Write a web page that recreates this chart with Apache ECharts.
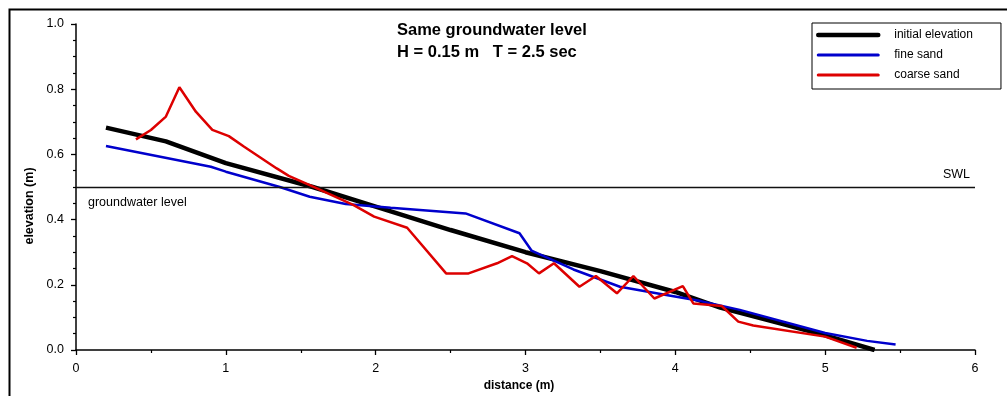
<!DOCTYPE html>
<html>
<head>
<meta charset="utf-8">
<script src="https://cdn.jsdelivr.net/npm/echarts@6/dist/echarts.min.js"></script>
<style>
html,body{margin:0;padding:0;background:#fff;}
#chart{width:1007px;height:396px;}
</style>
</head>
<body>
<div id="chart"></div>
<script>
// ---- data ----
const seriesNames = ['initial elevation', 'fine sand', 'coarse sand'];

const initialX = [0.2, 0.6, 1.0, 1.58, 2.0, 2.5, 3.0, 3.5, 4.0, 4.3, 4.7, 5.0, 5.33];
const initialY = [0.682, 0.640, 0.573, 0.500, 0.440, 0.368, 0.300, 0.242, 0.178, 0.130, 0.082, 0.045, 0.0];

const fineX = [0.2, 0.9, 1.0, 1.36, 1.56, 1.8, 2.1, 2.6, 2.96, 3.04, 3.32, 3.63, 3.94, 4.17, 4.43, 5.0, 5.28, 5.47];
const fineY = [0.626, 0.562, 0.547, 0.500, 0.470, 0.448, 0.436, 0.419, 0.358, 0.305, 0.247, 0.194, 0.169, 0.150, 0.123, 0.052, 0.028, 0.017];

const coarseX = [0.40, 0.50, 0.60, 0.69, 0.80, 0.91, 1.02, 1.12, 1.34, 1.42, 1.56, 1.85, 1.99, 2.21, 2.47, 2.62, 2.81, 2.91, 3.01, 3.09, 3.19, 3.36, 3.47, 3.61, 3.72, 3.86, 4.05, 4.12, 4.31, 4.42, 4.52, 5.0, 5.21];
const coarseY = [0.646, 0.675, 0.716, 0.806, 0.731, 0.675, 0.656, 0.624, 0.557, 0.534, 0.506, 0.445, 0.409, 0.375, 0.235, 0.235, 0.266, 0.288, 0.266, 0.235, 0.266, 0.194, 0.227, 0.174, 0.227, 0.158, 0.196, 0.143, 0.135, 0.087, 0.075, 0.041, 0.007];

const swlLevel = 0.5;
const titleText = 'Same groundwater level\nH = 0.15 m   T = 2.5 sec';
const xAxisTitle = 'distance (m)';
const yAxisTitle = 'elevation (m)';
const gwLabel = 'groundwater level';
const swlLabel = 'SWL';

const pairs = (xs, ys) => xs.map((x, i) => [x, ys[i]]);

const chart = echarts.init(document.getElementById('chart'));
const font = 'Liberation Sans, Arial, Helvetica, sans-serif';
const colors = ['#000000', '#0000cc', '#dd0000'];
const widths = [4.5, 2.5, 2.5];
const legendWidths = [4.5, 3, 3];

chart.setOption({
  animation: false,
  backgroundColor: '#fff',
  textStyle: { fontFamily: font },
  title: {
    text: titleText,
    left: 397,
    top: 19,
    padding: 0,
    textStyle: { fontFamily: font, fontSize: 16.5, fontWeight: 'bold', color: '#000', lineHeight: 22 }
  },
  legend: {
    orient: 'vertical',
    left: 812,
    top: 23,
    padding: [6, 28, 8, 4],
    itemWidth: 60,
    itemHeight: 14,
    itemGap: 8,
    borderColor: '#000',
    borderWidth: 1,
    backgroundColor: '#fff',
    itemStyle: { opacity: 0 },
    data: seriesNames.map((n, i) => ({
      name: n,
      lineStyle: { width: legendWidths[i], color: colors[i], cap: 'round' }
    })),
    textStyle: { fontFamily: font, fontSize: 12, color: '#000', padding: [0, 0, 0, 11] }
  },
  grid: { left: 76, right: 32, top: 24, bottom: 46 },
  xAxis: {
    type: 'value',
    min: 0, max: 6, interval: 1,
    axisLine: { lineStyle: { color: '#000', width: 1.5 } },
    axisTick: { inside: false, length: 5, lineStyle: { color: '#000', width: 1.3 } },
    minorTick: { show: true, splitNumber: 2, length: 3, lineStyle: { color: '#000', width: 1.2 } },
    axisLabel: { color: '#000', fontSize: 12.5, margin: 12, fontFamily: font },
    splitLine: { show: false }
  },
  yAxis: {
    type: 'value',
    min: 0, max: 1, interval: 0.2,
    axisLine: { show: true, lineStyle: { color: '#000', width: 1.5 } },
    axisTick: { show: true, inside: false, length: 5, lineStyle: { color: '#000', width: 1.3 } },
    minorTick: { show: true, splitNumber: 4, length: 3, lineStyle: { color: '#000', width: 1.2 } },
    axisLabel: { color: '#000', fontSize: 12.5, margin: 12, fontFamily: font, formatter: v => v.toFixed(1) },
    splitLine: { show: false }
  },
  series: [
    {
      name: seriesNames[0], type: 'line', symbol: 'none', z: 3,
      data: pairs(initialX, initialY),
      lineStyle: { color: colors[0], width: widths[0] },
      itemStyle: { color: colors[0] },
      markLine: {
        silent: true, symbol: 'none',
        label: { show: false },
        lineStyle: { color: '#111', width: 1.3, type: 'solid' },
        data: [{ yAxis: swlLevel }]
      }
    },
    {
      name: seriesNames[1], type: 'line', symbol: 'none', z: 4,
      data: pairs(fineX, fineY),
      lineStyle: { color: colors[1], width: widths[1] },
      itemStyle: { color: colors[1] }
    },
    {
      name: seriesNames[2], type: 'line', symbol: 'none', z: 5,
      data: pairs(coarseX, coarseY),
      lineStyle: { color: colors[2], width: widths[2] },
      itemStyle: { color: colors[2] }
    }
  ],
  graphic: [
    { type: 'rect', left: 7, top: 7, shape: { width: 1200, height: 600 }, style: { fill: 'none', stroke: '#000', lineWidth: 2 }, silent: true, z: 0 },
    { type: 'text', x: 30, y: 206, rotation: Math.PI / 2, style: { text: yAxisTitle, font: 'bold 12.5px ' + font, fill: '#000', align: 'center', verticalAlign: 'middle' } },
    { type: 'text', x: 519, y: 386, style: { text: xAxisTitle, font: 'bold 12px ' + font, fill: '#000', align: 'center', verticalAlign: 'middle' } },
    { type: 'text', x: 88, y: 203, style: { text: gwLabel, font: '12.5px ' + font, fill: '#000', align: 'left', verticalAlign: 'middle' } },
    { type: 'text', x: 970, y: 175, style: { text: swlLabel, font: '12.5px ' + font, fill: '#000', align: 'right', verticalAlign: 'middle' } }
  ]
});
</script>
</body>
</html>
